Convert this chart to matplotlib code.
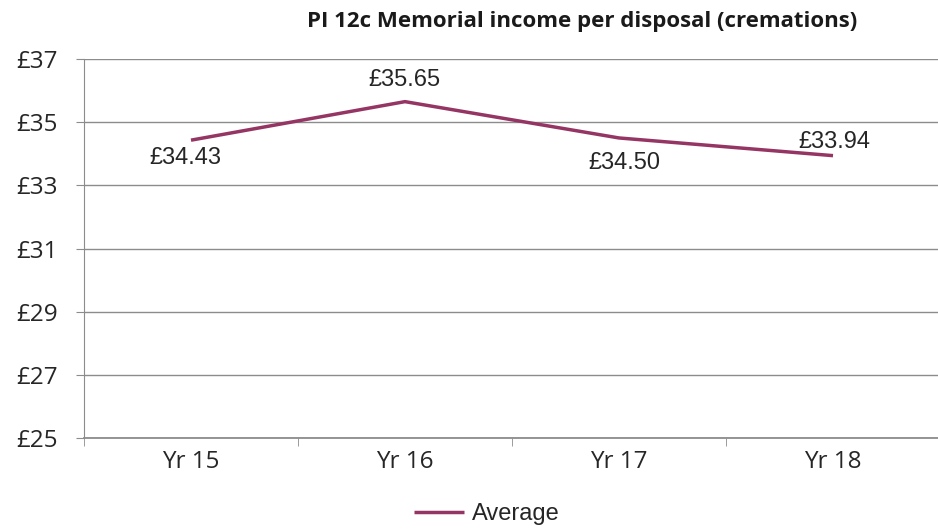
import matplotlib
matplotlib.use("Agg")
import matplotlib.pyplot as plt
import numpy as np

categories = ["Yr 15", "Yr 16", "Yr 17", "Yr 18"]
average = [34.43, 35.65, 34.50, 33.94]
labels = ["£34.43", "£35.65", "£34.50", "£33.94"]
yticks = [25, 27, 29, 31, 33, 35, 37]
ytick_labels = ["£25", "£27", "£29", "£31", "£33", "£35", "£37"]
title = "PI 12c Memorial income per disposal (cremations)"

line_color = "#953563"
grid_color = "#8c8c8c"
text_color = "#262626"

fig = plt.figure(figsize=(9.38, 5.31), dpi=100)
ax = fig.add_axes([84/938, 1-438/531, (940-84)/938, (438-59)/531])

x = np.arange(len(categories))
ax.plot(x, average, color=line_color, lw=2.5, solid_capstyle="butt", label="Average")

ax.set_xlim(-0.5, len(categories)-0.5)
ax.set_ylim(25, 37)
ax.set_yticks(yticks)
ax.set_yticklabels(ytick_labels, fontsize=17.5, color=text_color, family=["Open Sans", "DejaVu Sans"])
ax.set_xticks(x)
ax.set_xticklabels(categories, fontsize=17.5, color=text_color, family=["Open Sans", "DejaVu Sans"])
ax.tick_params(axis="x", which="major", length=0, pad=9)
ax.set_xticks(np.arange(-0.5, len(categories)), minor=True)
ax.tick_params(axis="x", which="minor", length=6, color=grid_color, direction="out")
ax.tick_params(axis="y", length=6, color=grid_color, pad=13)

ax.grid(axis="y", color=grid_color, lw=1)
ax.set_axisbelow(True)
for s in ["top", "right"]:
    ax.spines[s].set_visible(False)
ax.spines["left"].set_color(grid_color)
ax.spines["bottom"].set_color(grid_color)
ax.spines["bottom"].set_linewidth(1.3)

# label offsets in pixels (dx, dy up)
offsets_px = [(-6, -18), (-1, 22), (5, -25), (1, 14)]
for xi, yi, lab, (dx, dy) in zip(x, average, labels, offsets_px):
    ax.annotate(lab, (xi, yi), xytext=(dx*0.72, dy*0.72), textcoords="offset points",
                ha="center", va="center", fontsize=17, color=text_color,
                family=["Liberation Sans", "DejaVu Sans"])

fig.text(582/938, 1-21/531, title, ha="center", va="center", fontsize=16,
         fontweight="bold", color="#1a1a1a", family=["Open Sans", "DejaVu Sans"])

leg = fig.legend(handles=ax.get_lines(), loc="center", bbox_to_anchor=(487/938, 1-514/531),
                 frameon=False, handlelength=2.1, handletextpad=0.35,
                 prop={"family": ["Liberation Sans", "DejaVu Sans"], "size": 17})
for t in leg.get_texts():
    t.set_color(text_color)

fig.savefig("out.png", dpi=100)
